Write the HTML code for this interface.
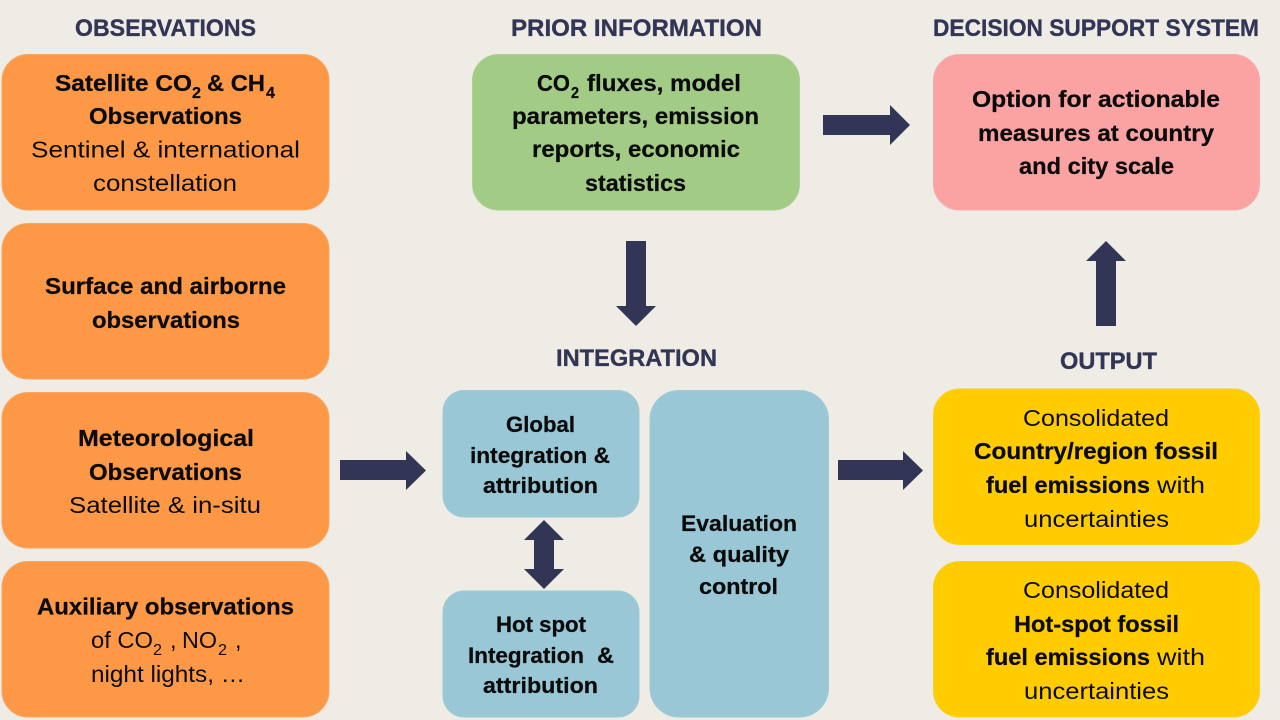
<!DOCTYPE html>
<html>
<head>
<meta charset="utf-8">
<style>
html,body{margin:0;padding:0;background:#EEECE4;width:1280px;height:720px;overflow:hidden}
svg{display:block}
text{font-family:"Liberation Sans",sans-serif;fill:#0b0b0b;font-size:23.5px}
.b{font-weight:bold;stroke:#0b0b0b;stroke-width:.25px}
.h{font-weight:bold;fill:#333556;stroke:#333556;stroke-width:.35px;font-size:24px}
.s{font-size:15.5px}
.m{font-size:22.5px;font-weight:bold;stroke:#0b0b0b;stroke-width:.25px}
</style>
</head>
<body>
<svg width="1280" height="720" viewBox="0 0 1280 720" xmlns="http://www.w3.org/2000/svg">
<rect width="1280" height="720" fill="#EEECE4"/>

<g fill="#FD9946" stroke="#FBA562" stroke-width="1">
<rect x="2" y="54.5" width="327" height="155.5" rx="26"/>
<rect x="2" y="223.5" width="327" height="155.5" rx="26"/>
<rect x="2" y="392.5" width="327" height="155.5" rx="26"/>
<rect x="2" y="561.5" width="327" height="155.5" rx="26"/>
</g>
<rect x="472.5" y="54.5" width="327" height="155.5" rx="26" fill="#A2CC86" stroke="#ABD092"/>
<rect x="933.5" y="54.5" width="326" height="155.5" rx="26" fill="#FBA3A3" stroke="#F9ABAB"/>
<g fill="#FFCC00" stroke="#FCCF20">
<rect x="933.5" y="389" width="326" height="155.5" rx="26"/>
<rect x="933.5" y="561.5" width="326" height="155.5" rx="26"/>
</g>
<g fill="#99C7D6" stroke="#9FCAD8">
<rect x="443" y="390.5" width="196" height="126.5" rx="21"/>
<rect x="443" y="591" width="196" height="126" rx="21"/>
<rect x="650" y="390.5" width="178.5" height="326.5" rx="29"/>
</g>

<g fill="#333556">
<polygon points="340,460 406,460 406,451 426,470.5 406,490 406,480 340,480"/>
<polygon points="838,460 903,460 903,451 923,470.5 903,490 903,480 838,480"/>
<polygon points="823,115 890,115 890,105 910,125 890,145 890,135 823,135"/>
<polygon points="626,241 646,241 646,306 656,306 636,326 616,306 626,306"/>
<polygon points="1096,326 1116,326 1116,261 1126,261 1106,241 1086,261 1096,261"/>
<polygon points="544,520 564,540 554,540 554,569 564,569 544,589 524,569 534,569 534,540 524,540"/>
</g>

<text class="h" x="75" y="36" textLength="181" lengthAdjust="spacingAndGlyphs">OBSERVATIONS</text>
<text class="h" x="511" y="36" textLength="251" lengthAdjust="spacingAndGlyphs">PRIOR INFORMATION</text>
<text class="h" x="933" y="36" textLength="326" lengthAdjust="spacingAndGlyphs">DECISION SUPPORT SYSTEM</text>
<text class="h" x="556" y="366" textLength="161" lengthAdjust="spacingAndGlyphs">INTEGRATION</text>
<text class="h" x="1060" y="369" textLength="97" lengthAdjust="spacingAndGlyphs">OUTPUT</text>

<text class="b" x="55" y="91" textLength="137" lengthAdjust="spacingAndGlyphs">Satellite CO</text>
<text class="b s" x="192" y="98" textLength="9" lengthAdjust="spacingAndGlyphs">2</text>
<text class="b" x="207" y="91" textLength="58" lengthAdjust="spacingAndGlyphs">&amp; CH</text>
<text class="b s" x="266" y="98" textLength="9" lengthAdjust="spacingAndGlyphs">4</text>
<text class="b" x="89" y="124" textLength="153" lengthAdjust="spacingAndGlyphs">Observations</text>
<text x="31" y="157.5" textLength="269" lengthAdjust="spacingAndGlyphs">Sentinel &amp; international</text>
<text x="93" y="191" textLength="144" lengthAdjust="spacingAndGlyphs">constellation</text>

<text class="b" x="45" y="294" textLength="241" lengthAdjust="spacingAndGlyphs">Surface and airborne</text>
<text class="b" x="92" y="328" textLength="148" lengthAdjust="spacingAndGlyphs">observations</text>

<text class="b" x="78" y="446" textLength="176" lengthAdjust="spacingAndGlyphs">Meteorological</text>
<text class="b" x="89" y="480" textLength="153" lengthAdjust="spacingAndGlyphs">Observations</text>
<text x="69" y="513" textLength="192" lengthAdjust="spacingAndGlyphs">Satellite &amp; in-situ</text>

<text class="b" x="37" y="614.5" textLength="257" lengthAdjust="spacingAndGlyphs">Auxiliary observations</text>
<text x="91" y="648" textLength="62" lengthAdjust="spacingAndGlyphs">of CO</text>
<text class="s" x="153" y="655" textLength="9" lengthAdjust="spacingAndGlyphs">2</text>
<text x="170" y="648">,</text>
<text x="182" y="648" textLength="35" lengthAdjust="spacingAndGlyphs">NO</text>
<text class="s" x="218" y="655" textLength="9" lengthAdjust="spacingAndGlyphs">2</text>
<text x="235" y="648">,</text>
<text x="91" y="682" textLength="154" lengthAdjust="spacingAndGlyphs">night lights, …</text>

<text class="b" x="537" y="91" textLength="33" lengthAdjust="spacingAndGlyphs">CO</text>
<text class="b s" x="571" y="98" textLength="8" lengthAdjust="spacingAndGlyphs">2</text>
<text class="b" x="587" y="91" textLength="154" lengthAdjust="spacingAndGlyphs">fluxes, model</text>
<text class="b" x="512" y="124" textLength="247" lengthAdjust="spacingAndGlyphs">parameters, emission</text>
<text class="b" x="532" y="157" textLength="208" lengthAdjust="spacingAndGlyphs">reports, economic</text>
<text class="b" x="585" y="191" textLength="101" lengthAdjust="spacingAndGlyphs">statistics</text>

<text class="b" x="972" y="107" textLength="248" lengthAdjust="spacingAndGlyphs">Option for actionable</text>
<text class="b" x="978" y="141" textLength="236" lengthAdjust="spacingAndGlyphs">measures at country</text>
<text class="b" x="1019" y="174" textLength="155" lengthAdjust="spacingAndGlyphs">and city scale</text>

<text class="m" x="506" y="432" textLength="69" lengthAdjust="spacingAndGlyphs">Global</text>
<text class="m" x="470" y="463" textLength="140" lengthAdjust="spacingAndGlyphs">integration &amp;</text>
<text class="m" x="483" y="493" textLength="115" lengthAdjust="spacingAndGlyphs">attribution</text>
<text class="m" x="496" y="632" textLength="90" lengthAdjust="spacingAndGlyphs">Hot spot</text>
<text class="m" x="468" y="663" textLength="116" lengthAdjust="spacingAndGlyphs">Integration</text>
<text class="m" x="597" y="663" textLength="17" lengthAdjust="spacingAndGlyphs">&amp;</text>
<text class="m" x="483" y="693" textLength="115" lengthAdjust="spacingAndGlyphs">attribution</text>
<text class="m" x="681" y="531" textLength="116" lengthAdjust="spacingAndGlyphs">Evaluation</text>
<text class="m" x="689" y="562" textLength="100" lengthAdjust="spacingAndGlyphs">&amp; quality</text>
<text class="m" x="699" y="594" textLength="79" lengthAdjust="spacingAndGlyphs">control</text>

<text x="1023" y="426" textLength="146" lengthAdjust="spacingAndGlyphs">Consolidated</text>
<text class="b" x="974" y="459" textLength="244" lengthAdjust="spacingAndGlyphs">Country/region fossil</text>
<text class="b" x="986" y="493" textLength="164" lengthAdjust="spacingAndGlyphs">fuel emissions</text>
<text x="1157" y="493" textLength="48" lengthAdjust="spacingAndGlyphs">with</text>
<text x="1024" y="527" textLength="145" lengthAdjust="spacingAndGlyphs">uncertainties</text>

<text x="1023" y="598" textLength="146" lengthAdjust="spacingAndGlyphs">Consolidated</text>
<text class="b" x="1014" y="632" textLength="165" lengthAdjust="spacingAndGlyphs">Hot-spot fossil</text>
<text class="b" x="986" y="665" textLength="164" lengthAdjust="spacingAndGlyphs">fuel emissions</text>
<text x="1157" y="665" textLength="48" lengthAdjust="spacingAndGlyphs">with</text>
<text x="1024" y="699" textLength="145" lengthAdjust="spacingAndGlyphs">uncertainties</text>
</svg>
</body>
</html>
